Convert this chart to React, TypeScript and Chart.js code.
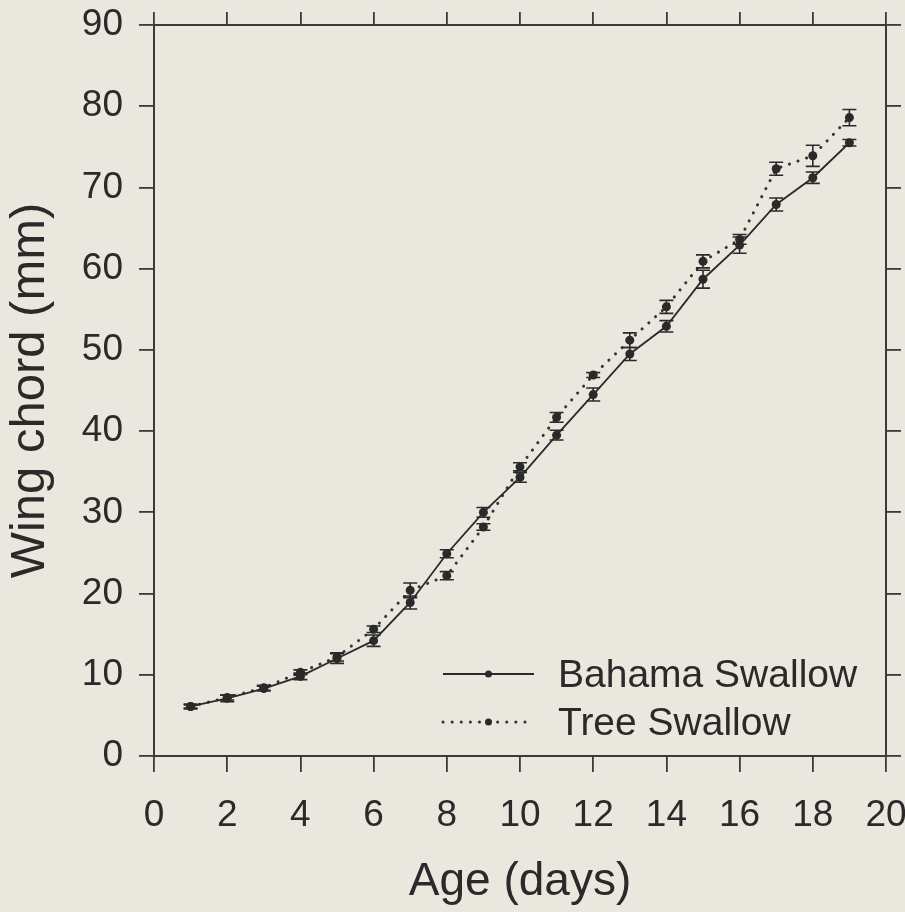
import React, { useEffect, useRef } from 'react';
import { Chart, registerables } from 'chart.js';

Chart.register(...registerables);

// ---- data ----
const ages = [1, 2, 3, 4, 5, 6, 7, 8, 9, 10, 11, 12, 13, 14, 15, 16, 17, 18, 19];
const bahamaMean = [6.1, 7.1, 8.3, 9.8, 12.0, 14.2, 18.9, 24.9, 30.0, 34.3, 39.5, 44.5, 49.5, 52.9, 58.7, 62.9, 67.9, 71.2, 75.5];
const bahamaErr = [0.3, 0.4, 0.3, 0.4, 0.6, 0.7, 0.8, 0.5, 0.6, 0.6, 0.6, 0.8, 0.8, 0.7, 1.1, 1.0, 0.8, 0.7, 0.4];
const treeMean = [6.1, 7.2, 8.4, 10.3, 12.2, 15.6, 20.4, 22.2, 28.2, 35.6, 41.7, 46.9, 51.2, 55.3, 60.9, 63.6, 72.3, 73.9, 78.6];
const treeErr = [0.2, 0.3, 0.3, 0.3, 0.5, 0.4, 0.9, 0.5, 0.4, 0.5, 0.6, 0.3, 0.9, 0.8, 0.8, 0.6, 0.8, 1.3, 1.0];
const seriesLabels = ['Bahama Swallow', 'Tree Swallow'];
const xTitle = 'Age (days)';
const yTitle = 'Wing chord (mm)';
const xRange = [0, 20];
const xStep = 2;
const yRange = [0, 90];
const yStep = 10;

// ---- style ----
const FONT = '"Liberation Sans", Arial, Helvetica, sans-serif';
const BG = '#e9e7de';
const INK = '#2a2a2a';
const AXIS = '#3a3a3a';
const W = 905;
const H = 912;

const errorBarPlugin = {
  id: 'errorBars',
  afterDatasetsDraw(chart: any) {
    const ctx = chart.ctx;
    const yScale = chart.scales.y;
    chart.data.datasets.forEach((ds: any, di: number) => {
      const meta = chart.getDatasetMeta(di);
      const errs: number[] = ds.errors || [];
      ctx.save();
      ctx.strokeStyle = INK;
      ctx.lineWidth = 1.6;
      meta.data.forEach((pt: any, i: number) => {
        const v = ds.data[i].y;
        const e = errs[i] || 0;
        const yt = yScale.getPixelForValue(v + e);
        const yb = yScale.getPixelForValue(v - e);
        const x = pt.x;
        const cap = 7;
        ctx.beginPath();
        ctx.moveTo(x, yt);
        ctx.lineTo(x, yb);
        ctx.moveTo(x - cap, yt);
        ctx.lineTo(x + cap, yt);
        ctx.moveTo(x - cap, yb);
        ctx.lineTo(x + cap, yb);
        ctx.stroke();
      });
      ctx.restore();
    });
  },
};

const legendPlugin = {
  id: 'innerLegend',
  afterDraw(chart: any) {
    const ctx = chart.ctx;
    const ca = chart.chartArea;
    const x0 = ca.left + 289;
    const x1 = ca.left + 380;
    const xm = (x0 + x1) / 2;
    const tx = ca.left + 404;
    const rows = [ca.top + 649, ca.top + 697];
    chart.data.datasets.forEach((ds: any, i: number) => {
      const y = rows[i];
      ctx.save();
      ctx.strokeStyle = ds.borderColor;
      ctx.lineWidth = ds.borderWidth;
      ctx.lineCap = ds.borderCapStyle || 'butt';
      ctx.setLineDash(ds.borderDash || []);
      ctx.beginPath();
      ctx.moveTo(x0, y);
      ctx.lineTo(x1, y);
      ctx.stroke();
      ctx.setLineDash([]);
      ctx.fillStyle = ds.pointBackgroundColor;
      ctx.beginPath();
      ctx.arc(xm, y, 3.5, 0, Math.PI * 2);
      ctx.fill();
      ctx.fillStyle = INK;
      ctx.font = `39px ${FONT}`;
      ctx.textAlign = 'left';
      ctx.textBaseline = 'middle';
      ctx.fillText(ds.label, tx, y + 2);
      ctx.restore();
    });
  },
};

const bgPlugin = {
  id: 'bg',
  beforeDraw(chart: any) {
    const ctx = chart.ctx;
    ctx.save();
    ctx.fillStyle = BG;
    ctx.fillRect(0, 0, chart.width, chart.height);
    ctx.restore();
  },
};

export default function App() {
  const ref = useRef<HTMLCanvasElement | null>(null);

  useEffect(() => {
    if (!ref.current) return;
    const tickFont = { family: FONT, size: 37, lineHeight: 1 };
    const gridBase = { drawOnChartArea: false, drawTicks: true, color: AXIS, lineWidth: 1.8 };
    const borderBase = { display: true, color: AXIS, width: 2 };
    const noPadX = (s: any) => { s.paddingLeft = 0; s.paddingRight = 0; };
    const noPadY = (s: any) => { s.paddingTop = 0; s.paddingBottom = 0; };
    const chart = new Chart(ref.current, {
      type: 'line',
      data: {
        datasets: [
          {
            label: seriesLabels[0],
            data: ages.map((a, i) => ({ x: a, y: bahamaMean[i] })),
            errors: bahamaErr,
            borderColor: INK,
            borderWidth: 1.8,
            pointRadius: 4.5,
            pointBackgroundColor: INK,
            pointBorderWidth: 0,
            tension: 0,
          } as any,
          {
            label: seriesLabels[1],
            data: ages.map((a, i) => ({ x: a, y: treeMean[i] })),
            errors: treeErr,
            borderColor: '#333333',
            borderWidth: 3,
            borderDash: [0.1, 9],
            borderCapStyle: 'round',
            pointRadius: 4.5,
            pointBackgroundColor: INK,
            pointBorderWidth: 0,
            tension: 0,
          } as any,
        ],
      },
      options: {
        animation: false,
        responsive: false,
        events: [],
        layout: { padding: 0 },
        plugins: {
          legend: { display: false },
          tooltip: { enabled: false },
          title: { display: false },
        },
        scales: {
          x: {
            type: 'linear',
            position: 'bottom',
            min: xRange[0],
            max: xRange[1],
            ticks: { stepSize: xStep, font: tickFont, color: INK, padding: 25, maxRotation: 0, autoSkip: false },
            grid: { ...gridBase, tickLength: 16 },
            border: borderBase,
            title: {
              display: true,
              text: xTitle,
              color: INK,
              font: { family: FONT, size: 46, lineHeight: 1 },
              padding: { top: 0, bottom: 7 },
            },
            afterFit: (s: any) => { s.height = 156; noPadX(s); },
          },
          x2: {
            type: 'linear',
            position: 'top',
            min: xRange[0],
            max: xRange[1],
            ticks: { stepSize: xStep, display: false },
            grid: { ...gridBase, tickLength: 13 },
            border: borderBase,
            afterFit: (s: any) => { s.height = 25; noPadX(s); },
          },
          y: {
            type: 'linear',
            position: 'left',
            min: yRange[0],
            max: yRange[1],
            ticks: { stepSize: yStep, font: tickFont, color: INK, padding: 16 },
            grid: { ...gridBase, tickLength: 15 },
            border: borderBase,
            title: {
              display: true,
              text: yTitle,
              color: INK,
              font: { family: FONT, size: 49, lineHeight: 1 },
              padding: { top: 6, bottom: 0 },
            },
            afterFit: (s: any) => { s.width = 154; noPadY(s); },
          },
          y2: {
            type: 'linear',
            position: 'right',
            min: yRange[0],
            max: yRange[1],
            ticks: { stepSize: yStep, display: false },
            grid: { ...gridBase, tickLength: 15 },
            border: borderBase,
            afterFit: (s: any) => { s.width = 19; noPadY(s); },
          },
        },
      } as any,
      plugins: [bgPlugin, errorBarPlugin, legendPlugin],
    });
    return () => chart.destroy();
  }, []);

  return (
    <div style={{ position: 'fixed', left: 0, top: 0, width: W, height: H, background: BG }}>
      <canvas ref={ref} width={W} height={H} style={{ width: W, height: H, display: 'block' }} />
    </div>
  );
}
